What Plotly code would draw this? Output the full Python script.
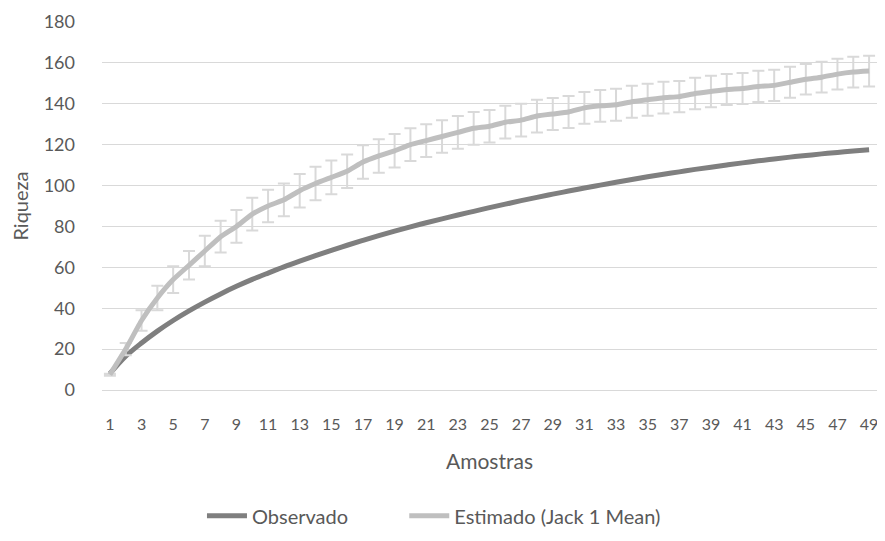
import plotly.graph_objects as go

amostras = list(range(1, 50))

observado = [8, 16.5, 23, 28.8, 34, 38.7, 43, 47, 50.7, 54.1,
             57.2, 60.2, 63.0, 65.7, 68.3, 70.8, 73.2, 75.5, 77.7, 79.8,
             81.8, 83.7, 85.6, 87.4, 89.2, 90.9, 92.6, 94.2, 95.8, 97.3,
             98.8, 100.2, 101.6, 103.0, 104.3, 105.5, 106.7, 107.9, 109.0, 110.1,
             111.1, 112.1, 113.0, 113.9, 114.7, 115.5, 116.2, 116.9, 117.5]

estimado = [7.5, 20, 34, 45, 54, 61, 68, 75, 80, 86,
            90, 93, 97.5, 101, 104, 107, 111.5, 114.5, 117, 120,
            122, 124, 126, 128, 129, 131, 132, 134, 135, 136,
            138, 139, 139.5, 141, 142, 143, 143.5, 145, 146, 147,
            147.5, 148.5, 149, 150.5, 152, 153, 154.5, 155.5, 156]

desvio = [0.5, 3, 5, 6, 6.5, 7, 7.5, 7.8, 8, 8,
          8, 8, 8.2, 8.2, 8.2, 8.2, 8.2, 8.2, 8.2, 8,
          8, 8, 8, 8, 8, 8, 8, 8, 7.8, 7.8,
          7.8, 7.8, 7.8, 7.8, 7.8, 7.8, 7.7, 7.7, 7.7, 7.6,
          7.6, 7.6, 7.6, 7.6, 7.5, 7.5, 7.5, 7.5, 7.5]

font = "Lato, 'Open Sans', sans-serif"
txt = "#595959"

fig = go.Figure()
fig.add_trace(go.Scatter(
    x=amostras, y=observado, mode="lines", name="Observado",
    line=dict(color="#7f7f7f", width=5, shape="spline", smoothing=1),
    legend="legend",
))
fig.add_trace(go.Scatter(
    x=amostras, y=estimado, mode="lines", name="Estimado (Jack 1 Mean)",
    line=dict(color="#bfbfbf", width=5, shape="spline", smoothing=0.4),
    error_y=dict(type="data", array=desvio, visible=True,
                 color="#d9d9d9", thickness=2, width=6),
    legend="legend2",
))

legend_style = dict(orientation="h", xanchor="left", xref="paper",
                    y=-0.342, yanchor="middle",
                    font=dict(size=20, color=txt), itemwidth=40)

# page body has an 8px margin: size the figure so the page does not overflow
fig.update_layout(
    width=869, height=525,
    margin=dict(l=94, r=0, t=14, b=143, autoexpand=False),
    paper_bgcolor="white", plot_bgcolor="white",
    font=dict(family=font, size=17, color=txt),
    showlegend=True,
    legend=dict(x=0.129, **legend_style),
    legend2=dict(x=0.390, **legend_style),
)
fig.update_xaxes(
    range=[0.5, 49.5], tick0=1, dtick=2, showgrid=False, zeroline=False,
    showline=True, linecolor="#d9d9d9", linewidth=1, automargin=False,
    ticklabelstandoff=20, ticklabeloverflow="allow",
    title=dict(text="Amostras", standoff=22, font=dict(size=21, color=txt)),
    tickfont=dict(size=16, color=txt),
)
fig.update_yaxes(
    range=[0, 180], dtick=20, showgrid=True, gridcolor="#d9d9d9", gridwidth=1,
    zeroline=False, showline=False, ticklabelstandoff=26, automargin=False,
    title=dict(text="Riqueza", standoff=14, font=dict(size=20, color=txt)),
    tickfont=dict(size=18, color=txt),
)

fig.write_html("out.html")
